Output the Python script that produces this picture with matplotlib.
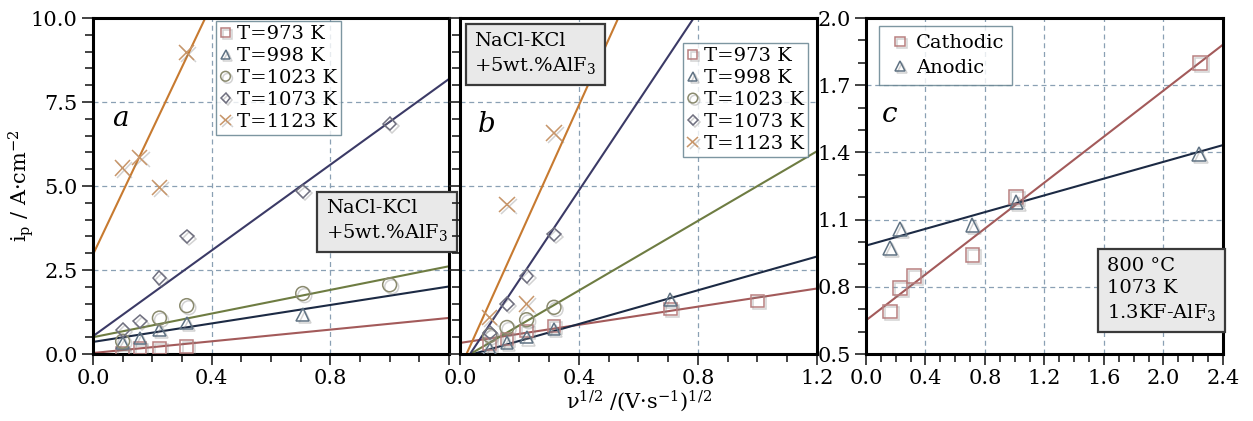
import numpy as np
import matplotlib
matplotlib.use("Agg")
import matplotlib.pyplot as plt
import matplotlib.patheffects as pe
from matplotlib.ticker import MultipleLocator, FormatStrFormatter

plt.rcParams['font.family'] = ['DejaVu Serif']
plt.rcParams['mathtext.fontset'] = 'dejavuserif'

# sqrt of scan rate
x_a = [0.1, 0.158, 0.224, 0.316, 0.707, 1.0]
labels_T = ["T=973 K", "T=998 K", "T=1023 K", "T=1073 K", "T=1123 K"]

# panel a: NaCl-KCl + 5wt.% AlF3 (left)
a_973 = [0.02, 0.18, 0.18, 0.23, None, None]
a_998 = [0.33, 0.48, 0.72, 0.92, 1.17, None]
a_1023 = [0.38, None, 1.07, 1.44, 1.80, 2.06]
a_1073 = [0.72, 0.97, 2.26, 3.50, 4.84, 6.86]
a_1123 = [5.54, 5.85, 4.96, 8.98, None, None]
a_icpt = [0.03, 0.36, 0.50, 0.53, 2.96]
a_slope = [0.87, 1.375, 1.76, 6.38, 18.6]

# panel b
b_973 = [0.30, 0.45, 0.69, 0.84, 1.34, 1.58]
b_998 = [0.15, 0.35, 0.50, 0.74, 1.63, None]
b_1023 = [0.55, 0.79, 1.02, 1.39, None, None]
b_1073 = [0.64, 1.49, 2.33, 3.56, None, None]
b_1123 = [1.09, 4.46, 1.49, 6.58, None, None]
b_icpt = [0.33, -0.11, -0.18, -0.45, -0.43]
b_slope = [1.35, 2.51, 5.18, 13.3, 19.6]

# panel c: 1.3KF-AlF3, 1073 K
x_cath = [0.161, 0.228, 0.322, 0.716, 1.007, 2.243]
y_cath = [0.69, 0.795, 0.847, 0.943, 1.20, 1.80]
x_anod = [0.161, 0.228, 0.716, 1.012, 2.239]
y_anod = [0.973, 1.058, 1.077, 1.18, 1.394]
c_icpt = [0.65, 0.984]
c_slope = [0.513, 0.187]
c_yticks = [0.5, 0.8, 1.1, 1.4, 1.7, 2.0]

mk = ['s', '^', 'o', 'D', 'x']
mk_col = ['#b88080', '#5f7283', '#8a8a6e', '#707080', '#c8966a']
mk_size = [9, 9, 10, 7, 11]
ln_col = ['#a35a5a', '#1c2a44', '#6e7c42', '#3b3a66', '#c77a30']
grid_col = '#8aa0b4'
shadow = [pe.SimpleLineShadow(offset=(1.5, -1.5), shadow_color='gray', alpha=0.35), pe.Normal()]


def style(ax, xmax, ymin, ymax, xmaj, ymaj, ymin_step):
    ax.set_xlim(0, xmax)
    ax.set_ylim(ymin, ymax)
    ax.xaxis.set_major_locator(MultipleLocator(xmaj))
    ax.xaxis.set_minor_locator(MultipleLocator(0.1))
    ax.yaxis.set_major_locator(MultipleLocator(ymaj))
    ax.yaxis.set_minor_locator(MultipleLocator(ymin_step))
    ax.tick_params(which='both', direction='out', labelsize=15, width=1.2, color='#222222', pad=3)
    ax.tick_params(which='major', length=8)
    ax.tick_params(which='minor', length=6)
    for s in ax.spines.values():
        s.set_linewidth(2.2)
    ax.grid(True, which='major', linestyle=(0, (4, 3)), color=grid_col, linewidth=0.9)
    ax.set_axisbelow(True)


def draw_panel(ax, series, icpt, slope, xmax):
    xx = np.array([0, xmax])
    for i, ys in enumerate(series):
        ax.plot(xx, icpt[i] + slope[i] * xx, color=ln_col[i], lw=1.5, zorder=2)
    for i, ys in enumerate(series):
        px = [x for x, y in zip(x_a, ys) if y is not None]
        py = [y for y in ys if y is not None]
        ax.plot(px, py, linestyle='none', marker=mk[i], markersize=mk_size[i],
                markerfacecolor='none', markeredgecolor=mk_col[i], markeredgewidth=1.1,
                label=labels_T[i], zorder=3, path_effects=shadow)


box = dict(boxstyle='square,pad=0.45', facecolor='#e9e9e9', edgecolor='#3a3a3a', linewidth=1.6)
leg_kw = dict(loc='upper left', fontsize=14, frameon=True, fancybox=False, edgecolor='#5d7c8a',
              handlelength=0.6, handletextpad=0.3, labelspacing=0.2, borderpad=0.2,
              markerscale=0.7, borderaxespad=0)

fig = plt.figure(figsize=(12.53, 4.21), dpi=100)
ax_a = fig.add_axes([0.0742, 0.1591, 0.2841, 0.798])
ax_b = fig.add_axes([0.3671, 0.1591, 0.2849, 0.798])
ax_c = fig.add_axes([0.6911, 0.1591, 0.2849, 0.798])

# panel a
draw_panel(ax_a, [a_973, a_998, a_1023, a_1073, a_1123], a_icpt, a_slope, 1.2)
style(ax_a, 1.2, 0, 10, 0.4, 2.5, 0.5)
ax_a.set_xticks([0, 0.4, 0.8, 1.2])
ax_a.set_xticklabels(['0.0', '0.4', '0.8', ''])
ax_a.yaxis.set_major_formatter(FormatStrFormatter('%.1f'))
ax_a.set_ylabel(r"i$_\mathregular{p}$ / A·cm$^\mathregular{-2}$", fontsize=15)
ax_a.yaxis.set_label_coords(-0.16, 0.5)
ax_a.text(0.055, 0.68, "a", transform=ax_a.transAxes, fontsize=20, style='italic')
ax_a.legend(bbox_to_anchor=(0.345, 0.99), **leg_kw)
ax_a.text(0.655, 0.395, "NaCl-KCl\n+5wt.%AlF$_3$", transform=ax_a.transAxes, fontsize=14,
          va='center', ha='left', bbox=box, linespacing=1.3)

# panel b
draw_panel(ax_b, [b_973, b_998, b_1023, b_1073, b_1123], b_icpt, b_slope, 1.2)
style(ax_b, 1.2, 0, 10, 0.4, 2.5, 0.5)
ax_b.xaxis.set_major_formatter(FormatStrFormatter('%.1f'))
ax_b.tick_params(axis='y', labelleft=False)
ax_b.set_xlabel(r"ν$^\mathregular{1/2}$ /(V·s$^\mathregular{-1}$)$^\mathregular{1/2}$",
                fontsize=15, labelpad=0)
ax_b.text(0.05, 0.66, "b", transform=ax_b.transAxes, fontsize=20, style='italic')
ax_b.legend(bbox_to_anchor=(0.625, 0.925), **leg_kw)
ax_b.text(0.04, 0.893, "NaCl-KCl\n+5wt.%AlF$_3$", transform=ax_b.transAxes, fontsize=14,
          va='center', ha='left', bbox=box, linespacing=1.3)

# panel c
xx = np.array([0, 2.4])
ax_c.plot(xx, c_icpt[0] + c_slope[0] * xx, color=ln_col[0], lw=1.5, zorder=2)
ax_c.plot(xx, c_icpt[1] + c_slope[1] * xx, color=ln_col[1], lw=1.5, zorder=2)
ax_c.plot(x_cath, y_cath, linestyle='none', marker='s', markersize=10, markerfacecolor='none',
          markeredgecolor=mk_col[0], markeredgewidth=1.1, label='Cathodic', zorder=3,
          path_effects=shadow)
ax_c.plot(x_anod, y_anod, linestyle='none', marker='^', markersize=10, markerfacecolor='none',
          markeredgecolor=mk_col[1], markeredgewidth=1.1, label='Anodic', zorder=3,
          path_effects=shadow)
style(ax_c, 2.4, 0.5, 2.0, 0.4, 0.3, 0.1)
ax_c.set_yticks(c_yticks)
ax_c.xaxis.set_major_formatter(FormatStrFormatter('%.1f'))
ax_c.yaxis.set_major_formatter(FormatStrFormatter('%.1f'))
ax_c.text(0.045, 0.69, "c", transform=ax_c.transAxes, fontsize=20, style='italic')
ax_c.legend(loc='upper left', bbox_to_anchor=(0.036, 0.975), fontsize=14, frameon=True,
            fancybox=False, edgecolor='#5d7c8a', handlelength=1.4, handletextpad=0.1,
            labelspacing=0.35, borderpad=0.4, markerscale=0.7, borderaxespad=0)
ax_c.text(0.675, 0.19, "800 °C\n1073 K\n1.3KF-AlF$_3$", transform=ax_c.transAxes, fontsize=14,
          va='center', ha='left', bbox=box, linespacing=1.3)

fig.savefig("out.png", dpi=100)
